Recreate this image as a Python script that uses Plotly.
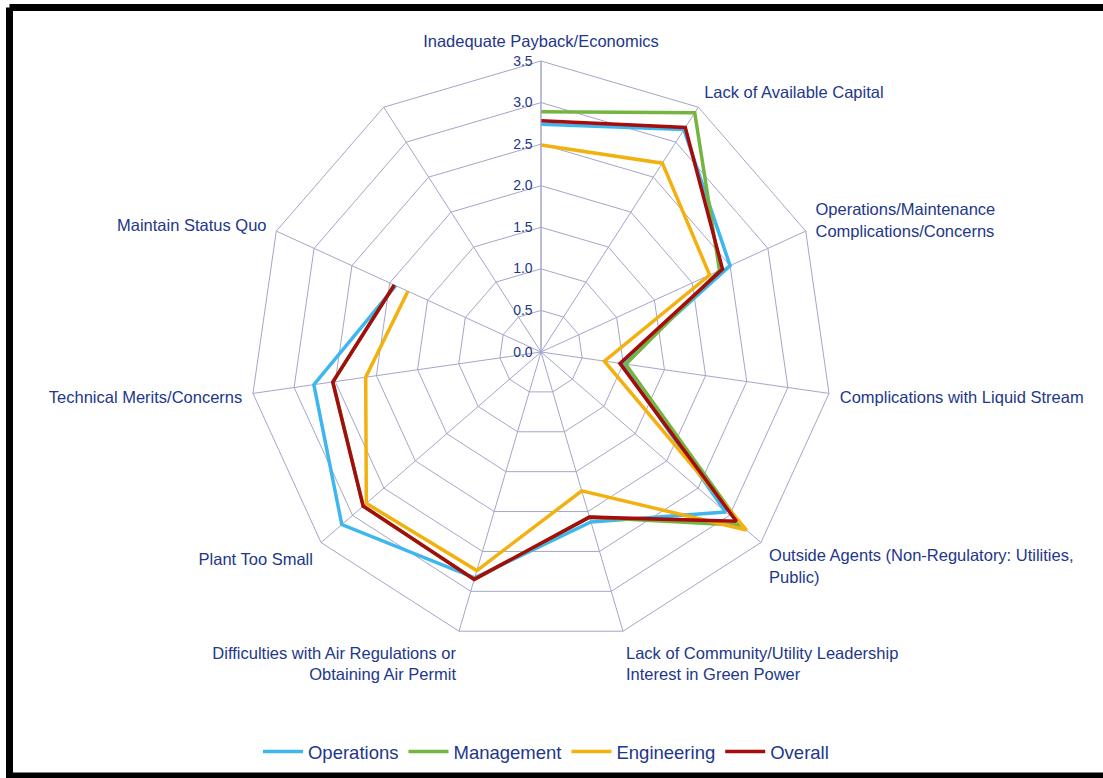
import plotly.graph_objects as go

categories = [
    "Inadequate Payback/Economics",
    "Lack of Available Capital",
    "Operations/Maintenance<br>Complications/Concerns",
    "Complications with Liquid Stream",
    "Outside Agents (Non-Regulatory: Utilities,<br>Public)",
    "Lack of Community/Utility Leadership<br>Interest in Green Power",
    "Difficulties with Air Regulations or<br>Obtaining Air Permit",
    "Plant Too Small",
    "Technical Merits/Concerns",
    "Maintain Status Quo",
    " ",
]

operations = [2.74, 3.18, 2.50, 0.98, 2.94, 2.13, 2.83, 3.17, 2.76, 1.92, None]
management = [2.89, 3.42, 2.36, 1.03, 3.18, 2.07, 2.85, 2.83, 2.53, 1.94, None]
engineering = [2.49, 2.70, 2.23, 0.77, 3.27, 1.74, 2.74, 2.78, 2.13, 1.76, None]
overall = [2.78, 3.21, 2.40, 0.96, 3.11, 2.07, 2.85, 2.83, 2.53, 1.94, None]

series = [
    ("Operations", operations, "#3DB7EE"),
    ("Management", management, "#76B442"),
    ("Engineering", engineering, "#F2B10E"),
    ("Overall", overall, "#A50C0C"),
]

FONT = "Liberation Sans Narrow, Arial Narrow, Liberation Sans, Arial, sans-serif"
TXT = "#22378A"
GRID = "#A4A6C9"

fig = go.Figure()
for name, vals, col in series:
    fig.add_trace(go.Scatterpolar(
        r=vals, theta=categories, name=name, mode="lines",
        line=dict(color=col, width=3.5), connectgaps=False,
    ))

W, H = 1103, 778
cx, cy, R = 541, 352, 291

fig.update_layout(
    width=W, height=H,
    margin=dict(l=0, r=0, t=0, b=0),
    paper_bgcolor="white",
    font=dict(family=FONT, color=TXT, size=16),
    polar=dict(
        domain=dict(x=[(cx - R) / W, (cx + R) / W],
                    y=[1 - (cy + R) / H, 1 - (cy - R) / H]),
        bgcolor="white",
        gridshape="linear",
        radialaxis=dict(
            range=[0, 3.5], dtick=0.5, tick0=0, tickformat=".1f",
            angle=90, tickangle=90, side="counterclockwise",
            showline=True, linecolor=GRID, linewidth=1,
            gridcolor=GRID, gridwidth=1,
            ticks="outside", ticklen=3, tickcolor="rgba(0,0,0,0)",
            tickfont=dict(size=14, color=TXT, family=FONT),
        ),
        angularaxis=dict(
            rotation=90, direction="clockwise",
            categoryorder="array", categoryarray=categories,
            showline=True, linecolor=GRID, linewidth=1,
            gridcolor=GRID, gridwidth=1,
            ticks="outside", ticklen=7, tickcolor="rgba(0,0,0,0)",
            tickfont=dict(size=16.5, color=TXT, family=FONT),
        ),
    ),
    legend=dict(
        orientation="h", x=0.495, xanchor="center", y=1 - 752 / H, yanchor="middle",
        font=dict(size=18.5, color=TXT, family=FONT),
        itemwidth=40, traceorder="normal",
    ),
    shapes=[
        dict(type="line", xref="paper", yref="paper",
             x0=9.5 / W, x1=1.05, y0=1 - 7.5 / H, y1=1 - 7.5 / H,
             line=dict(color="black", width=7)),
        dict(type="line", xref="paper", yref="paper",
             x0=9.5 / W, x1=9.5 / W, y0=1 - 7.5 / H, y1=-0.02,
             line=dict(color="black", width=7)),
        dict(type="line", xref="paper", yref="paper",
             x0=9.5 / W, x1=1.05, y0=1 - 776 / H, y1=1 - 776 / H,
             line=dict(color="black", width=7)),
    ],
)

fig.write_html("out.html")
